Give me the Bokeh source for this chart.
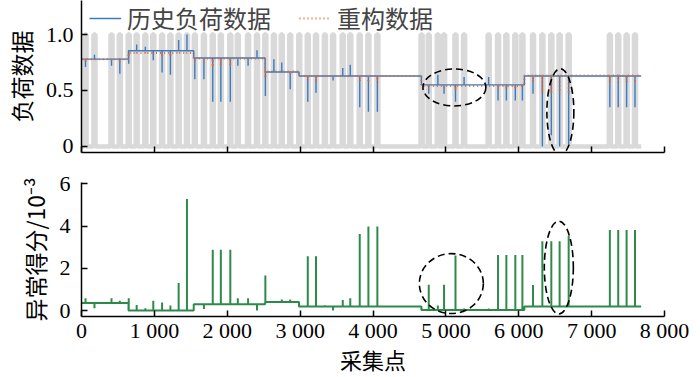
from bokeh.plotting import figure
from bokeh.layouts import column
from bokeh.models import FixedTicker, Legend, LegendItem
from bokeh.embed import file_html
from bokeh.resources import INLINE

# ---------------- data ----------------
x_end = 7680
seg_start = [0, 645, 1540, 2520, 2985, 4664, 6077]
load_level = [0.78, 0.855, 0.79, 0.665, 0.63, 0.55, 0.63]
recon_level = [0.78, 0.835, 0.785, 0.67, 0.63, 0.54, 0.635]
score_level = [0.36, 0.0, 0.30, 0.41, 0.19, 0.03, 0.19]

anom_x = [55, 178, 412, 526, 648, 757, 876, 985, 1106, 1220, 1333, 1447, 1555, 1680,
          1801, 1912, 2042, 2145, 2286, 2408, 2523, 2640, 2748, 2864, 2988, 3105, 3218,
          3340, 3452, 3585, 3688, 3818, 3937, 4060, 4667, 4765, 4890, 4975, 5132, 5250,
          5587, 5716, 5830, 5953, 6050, 6196, 6324, 6447, 6561, 6685, 7250, 7365, 7480, 7595]
load_anom = [0.71, 0.82, 0.72, 0.65, 0.74, 0.91, 0.89, 0.77, 0.66, 0.64, 0.95, 1.00, 0.60, 0.60,
             0.40, 0.40, 0.40, 0.72, 0.72, 0.86, 0.45, 0.78, 0.75, 0.51, 0.63, 0.40, 0.48,
             0.63, 0.59, 0.70, 0.73, 0.35, 0.31, 0.31, 0.55, 0.47, 0.64, 0.47, 0.40, 0.62,
             0.62, 0.41, 0.41, 0.41, 0.41, 0.47, 0.00, 0.10, 0.00, 0.02, 0.35, 0.35, 0.35, 0.35]
recon_anom = [0.75, 0.78, 0.76, 0.75, 0.80, 0.83, 0.83, 0.82, 0.80, 0.80, 0.83, 0.83, 0.76, 0.75,
              0.71, 0.72, 0.72, 0.78, 0.78, 0.78, 0.61, 0.67, 0.67, 0.64, 0.63, 0.59, 0.57,
              0.63, 0.62, 0.63, 0.63, 0.58, 0.57, 0.57, 0.54, 0.51, 0.54, 0.51, 0.50, 0.54,
              0.54, 0.51, 0.51, 0.51, 0.51, 0.58, 0.47, 0.47, 0.47, 0.47, 0.57, 0.57, 0.57, 0.57]
score_anom = [0.58, 0.11, 0.58, 0.47, 0.58, 0.27, 0.11, 0.47, 0.38, 0.24, 1.31, 5.29, 0.35, 0.08,
              2.88, 2.88, 2.88, 0.58, 0.58, 0.00, 1.66, 0.45, 0.52, 0.52, 0.25, 2.58, 2.58,
              0.25, 0.00, 0.50, 0.58, 3.63, 3.98, 3.98, 0.15, 1.23, 0.24, 1.23, 2.61, 0.10,
              0.10, 2.64, 2.64, 2.64, 2.64, 1.21, 3.29, 3.29, 3.29, 3.55, 3.82, 3.82, 3.82, 3.82]

x_ticks = [0, 1000, 2000, 3000, 4000, 5000, 6000, 7000, 8000]
x_tick_labels = ["0", "1 000", "2 000", "3 000", "4 000", "5 000", "6 000", "7 000", "8 000"]
load_ticks = [0, 0.5, 1.0]
load_tick_labels = ["0", "0.5", "1.0"]
score_ticks = [0, 2, 4, 6]

title_load = "负荷数据"
title_score = "异常得分/10⁻³"
title_x = "采集点"

# dashed ellipses (annotation marks): centre x, centre y, width, height
top_ell_x, top_ell_y, top_ell_w, top_ell_h = [5117, 6571], [0.527, 0.31], [864, 370], [0.33, 0.77]
bot_ell_x, bot_ell_y, bot_ell_w, bot_ell_h = [5075, 6550], [1.28, 2.04], [878, 398], [2.84, 4.4]

# ---------------- geometry helpers ----------------
def build(levels, spikes):
    events = sorted([(b, 0, i) for i, b in enumerate(seg_start) if i > 0] +
                    [(a, 1, j) for j, a in enumerate(anom_x)])
    xs, ys = [0], [levels[0]]
    cur = levels[0]
    for xv, kind, idx in events:
        if kind == 0:
            xs += [xv, xv]
            ys += [cur, levels[idx]]
            cur = levels[idx]
        else:
            xs += [xv, xv, xv]
            ys += [cur, spikes[idx], cur]
    xs.append(x_end)
    ys.append(cur)
    return xs, ys

def mask():
    w = 14
    xs, ys = [0], [0]
    for a in anom_x:
        xs += [a - w, a - w, a + w, a + w]
        ys += [0, 1, 1, 0]
    xs.append(x_end)
    ys.append(0)
    return xs, ys

SERIF = "Liberation Serif"
CJK = "Noto Sans CJK SC"
BLUE = "#3b7bbf"
ORANGE = "#e8662e"
GREEN = "#2e8a4a"
GRAY = "#d9d9d9"

def style(p):
    p.xgrid.visible = False
    p.ygrid.visible = False
    p.outline_line_color = None
    p.background_fill_color = "white"
    for ax in (p.xaxis[0], p.yaxis[0]):
        ax.axis_line_color = "black"
        ax.axis_line_width = 1.5
        ax.major_tick_line_color = "black"
        ax.major_tick_line_width = 1.5
        ax.major_tick_in = 6
        ax.major_tick_out = 0
        ax.minor_tick_line_color = None
        ax.major_label_text_font = SERIF
        ax.major_label_text_font_size = "22px"
        ax.major_label_text_color = "black"
        ax.axis_label_text_font = CJK
        ax.axis_label_text_font_size = "23px"
        ax.axis_label_text_font_style = "normal"
        ax.axis_label_text_color = "black"
    p.xaxis[0].ticker = FixedTicker(ticks=x_ticks)

# ---------------- top: load data ----------------
p1 = figure(frame_width=583, frame_height=152, x_range=(0, 8000), y_range=(-0.054, 1.304),
            min_border_left=80, min_border_right=37, min_border_top=0, min_border_bottom=12,
            output_backend="svg", toolbar_location=None)
style(p1)
mx, my = mask()
p1.line(mx, my, line_color=GRAY, line_width=4.5)
bx, by = build(load_level, load_anom)
r_load = p1.line(bx, by, line_color=BLUE, line_width=1.4)
ox, oy = build(recon_level, recon_anom)
r_recon = p1.line(ox, oy, line_color=ORANGE, line_width=2, line_dash="1 3")
p1.ellipse(x=top_ell_x, y=top_ell_y, width=top_ell_w, height=top_ell_h,
           fill_color=None, line_color="black", line_width=1.6, line_dash="7 4")
p1.yaxis[0].ticker = FixedTicker(ticks=load_ticks)
p1.yaxis[0].major_label_overrides = dict(zip(load_ticks, load_tick_labels))
p1.yaxis[0].major_label_standoff = 8
p1.yaxis[0].axis_label = title_load
p1.xaxis[0].major_label_overrides = {t: "" for t in x_ticks}
p1.xaxis[0].major_label_standoff = 0

legend = Legend(items=[LegendItem(label="历史负荷数据", renderers=[r_load]),
                       LegendItem(label="重构数据", renderers=[r_recon])],
                location=(8, 117), orientation="horizontal",
                background_fill_alpha=0, border_line_color=None,
                label_text_font=CJK, label_text_font_size="24px",
                glyph_width=32, label_standoff=6, spacing=28,
                padding=0, margin=0)
p1.add_layout(legend)
legend.margin = 0
legend.padding = 0

# ---------------- bottom: anomaly score ----------------
p2 = figure(frame_width=583, frame_height=134, x_range=p1.x_range, y_range=(-0.28, 6.07),
            min_border_left=80, min_border_right=37, min_border_top=18, min_border_bottom=0,
            output_backend="svg", toolbar_location=None)
style(p2)
p2.xaxis[0].major_label_overrides = dict(zip(x_ticks, x_tick_labels))
gx, gy = build(score_level, score_anom)
p2.line(gx, gy, line_color=GREEN, line_width=2)
p2.ellipse(x=bot_ell_x, y=bot_ell_y, width=bot_ell_w, height=bot_ell_h,
           fill_color=None, line_color="black", line_width=1.6, line_dash="7 4")
p2.yaxis[0].ticker = FixedTicker(ticks=score_ticks)
p2.yaxis[0].major_label_standoff = 11
p2.yaxis[0].axis_label = title_score
p2.xaxis[0].major_label_standoff = 1
p2.xaxis[0].axis_label = title_x
p2.xaxis[0].axis_label_text_font_size = "22px"
p2.xaxis[0].axis_label_standoff = -3

layout = column(p1, p2, spacing=0)
open("out.html", "w").write(file_html(layout, INLINE))
